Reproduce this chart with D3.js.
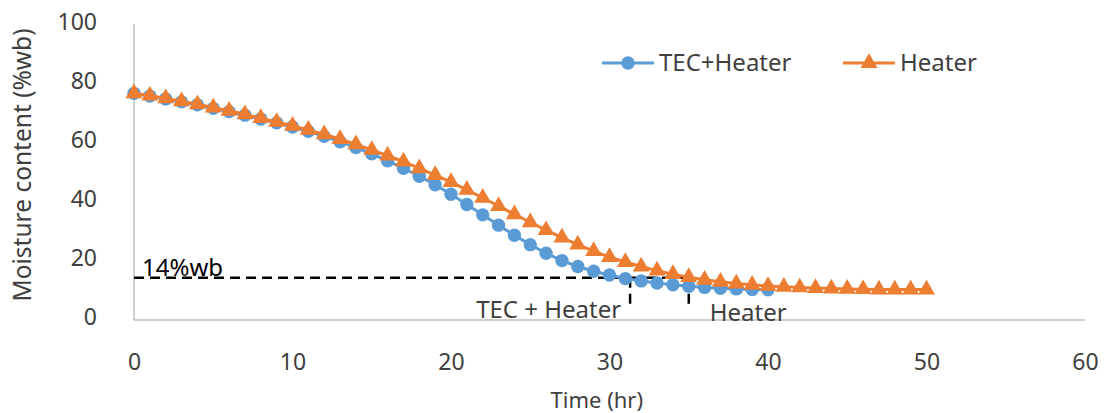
<!DOCTYPE html>
<html lang="en">
<head>
    <meta charset="UTF-8">
    <title>Moisture content vs time</title>
    <script src="https://d3js.org/d3.v7.min.js"></script>
    <style>
        body {
            margin: 0;
            padding: 0;
            background: #fff;
            font-family: "Noto Sans", "Open Sans", sans-serif;
        }
        .tick text {
            fill: #404040;
            font-size: 23px;
        }
    </style>
</head>
<body>
    <svg width="1107" height="413"></svg>

    <script>
        // hours for each series (one reading per hour)
        const tecHours = d3.range(0, 41);
        const heaterHours = d3.range(0, 51);

        const tecHeater = [76.5, 75.6, 74.6, 73.6, 72.6, 71.4, 70.3, 69.1, 67.8, 66.5,
            65.1, 63.6, 61.9, 60.1, 58.1, 56.0, 53.6, 51.1, 48.4, 45.5,
            42.3, 38.8, 35.3, 31.8, 28.4, 25.2, 22.3, 19.8, 17.8, 16.2,
            14.9, 13.7, 12.9, 12.2, 11.6, 11.1, 10.7, 10.4, 10.2, 10.0, 9.9];

        const heater = [76.5, 75.7, 74.8, 73.8, 72.8, 71.7, 70.6, 69.4, 68.1, 66.8,
            65.5, 64.1, 62.6, 61.0, 59.2, 57.3, 55.4, 53.4, 51.1, 48.8,
            46.4, 43.8, 41.1, 38.3, 35.5, 32.8, 30.1, 27.6, 25.2, 23.0,
            21.0, 19.3, 17.8, 16.4, 15.2, 14.2, 13.3, 12.6, 12.0, 11.6,
            11.2, 10.9, 10.7, 10.5, 10.3, 10.2, 10.1, 10.0, 10.0, 10.0, 10.0];

        const seriesNames = ["TEC+Heater", "Heater"];
        const xTicks = [0, 10, 20, 30, 40, 50, 60];
        const yTicks = [0, 20, 40, 60, 80, 100];

        // 14 %wb reference and the times each method reaches it
        const targetMoisture = 14;
        const reachTimes = [31.3, 35];
        const reachLabels = ["TEC + Heater", "Heater"];

        const blue = "#5B9BD5";
        const orange = "#ED7D31";

        const svg = d3.select("svg");

        const x = d3.scaleLinear().domain([0, 60]).range([134, 1085]);
        const y = d3.scaleLinear().domain([0, 100]).range([319, 24]);

        // axis lines
        svg.append("line")
            .attr("x1", x(0)).attr("x2", x(0))
            .attr("y1", y(100)).attr("y2", 320)
            .attr("stroke", "#bfbfbf").attr("stroke-width", 1.5);
        svg.append("line")
            .attr("x1", x(0)).attr("x2", x(60))
            .attr("y1", 320).attr("y2", 320)
            .attr("stroke", "#bfbfbf").attr("stroke-width", 1.5);

        // y tick labels
        const yAxis = svg.append("g")
            .attr("transform", `translate(${x(0)},-2)`)
            .call(d3.axisLeft(y).tickValues(yTicks).tickSize(0).tickPadding(37));
        yAxis.select(".domain").remove();

        // x tick labels sit well below the axis line
        const xAxis = svg.append("g")
            .attr("transform", "translate(0,354)")
            .call(d3.axisBottom(x).tickValues(xTicks).tickSize(0).tickPadding(0));
        xAxis.select(".domain").remove();

        yAxis.selectAll("text").style("font-family", "'Noto Sans', sans-serif");
        xAxis.selectAll("text").style("font-family", "'Noto Sans', sans-serif");

        // axis titles
        svg.append("text")
            .attr("x", x(29.2)).attr("y", 408)
            .attr("text-anchor", "middle")
            .attr("fill", "#404040")
            .style("font-size", "22px")
            .text("Time (hr)");

        svg.append("text")
            .attr("transform", "translate(31,165) rotate(-90)")
            .attr("text-anchor", "middle")
            .attr("fill", "#404040")
            .style("font-size", "24.5px")
            .text("Moisture content (%wb)");

        // dashed guides for 14 %wb
        const dash = "10,6";
        svg.append("line")
            .attr("x1", x(0)).attr("x2", x(reachTimes[1]))
            .attr("y1", y(targetMoisture)).attr("y2", y(targetMoisture))
            .attr("stroke", "#000").attr("stroke-width", 2.5)
            .attr("stroke-dasharray", dash);
        reachTimes.forEach(function(t) {
            svg.append("line")
                .attr("x1", x(t)).attr("x2", x(t))
                .attr("y1", y(targetMoisture)).attr("y2", y(3.5))
                .attr("stroke", "#000").attr("stroke-width", 2.5)
                .attr("stroke-dasharray", dash);
        });

        svg.append("text")
            .attr("x", x(0) + 8).attr("y", y(targetMoisture) - 2)
            .attr("fill", "#000")
            .style("font-size", "24px")
            .text("14%wb");

        svg.append("text")
            .attr("x", x(reachTimes[0]) - 9).attr("y", y(targetMoisture) + 40)
            .attr("text-anchor", "end")
            .attr("fill", "#404040")
            .style("font-size", "24px")
            .text(reachLabels[0]);

        svg.append("text")
            .attr("x", x(reachTimes[1]) + 21).attr("y", y(targetMoisture) + 43)
            .attr("fill", "#404040")
            .style("font-size", "24px")
            .text(reachLabels[1]);

        // series
        const line = d3.line()
            .x(d => x(d[0]))
            .y(d => y(d[1]));

        const series = [
            { name: seriesNames[0], data: d3.zip(tecHours, tecHeater), color: blue, symbol: d3.symbolCircle, size: 140 },
            { name: seriesNames[1], data: d3.zip(heaterHours, heater), color: orange, symbol: d3.symbolTriangle, size: 125 }
        ];

        series.forEach(function(s) {
            svg.append("path")
                .datum(s.data)
                .attr("d", line)
                .attr("fill", "none")
                .attr("stroke", s.color)
                .attr("stroke-width", 3);

            svg.append("g")
                .selectAll("path")
                .data(s.data)
                .enter()
                .append("path")
                .attr("transform", d => `translate(${x(d[0])},${y(d[1])})`)
                .attr("d", d3.symbol().type(s.symbol).size(s.size))
                .attr("fill", s.color);
        });

        // legend
        const legendX = [602, 843];
        series.forEach(function(s, i) {
            const g = svg.append("g").attr("transform", `translate(${legendX[i]},63)`);
            g.append("line")
                .attr("x1", 0).attr("x2", 52)
                .attr("stroke", s.color).attr("stroke-width", 3);
            g.append("path")
                .attr("transform", "translate(26,0)")
                .attr("d", d3.symbol().type(s.symbol).size(s.size))
                .attr("fill", s.color);
            g.append("text")
                .attr("x", 57).attr("y", 8)
                .attr("fill", "#404040")
                .style("font-size", "24px")
                .text(s.name);
        });
    </script>
</body>
</html>
